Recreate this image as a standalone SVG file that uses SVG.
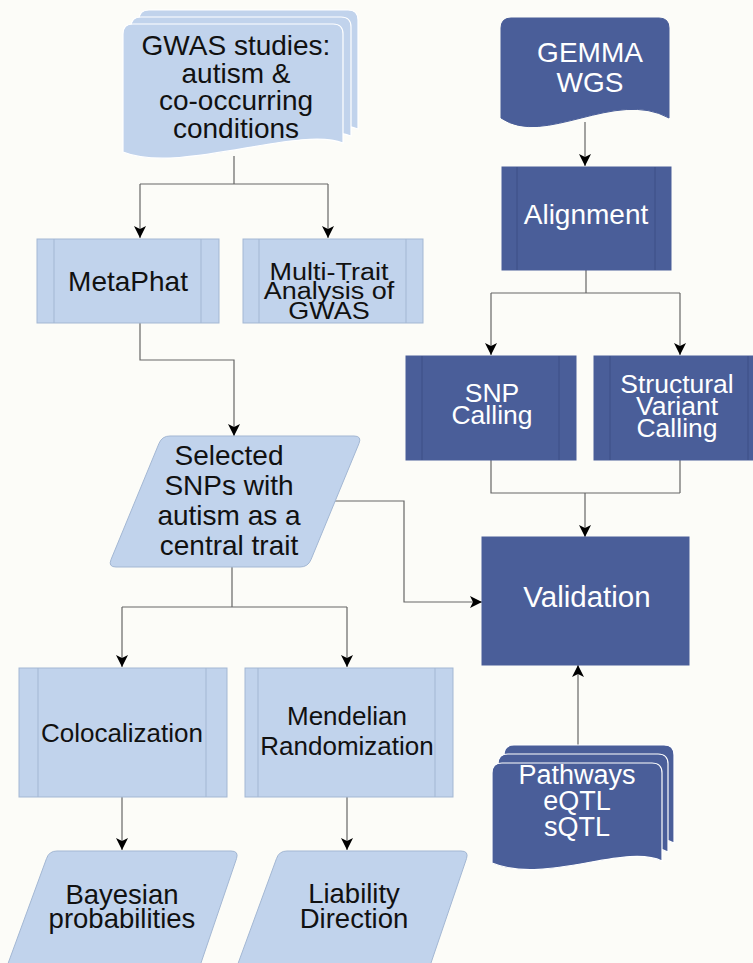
<svg xmlns="http://www.w3.org/2000/svg" width="753" height="963" viewBox="0 0 753 963">
<style>
.bg{fill:#fcfcf8}
.lf{fill:#c1d3ec;stroke:#a3b7d3;stroke-width:1}
.li{stroke:#a3b7d3;stroke-width:1;fill:none}
.df{fill:#4a5e99;stroke:#4a5e99;stroke-width:1}
.di{stroke:#3c4f86;stroke-width:1;fill:none}
.doc{stroke:#ffffff;stroke-width:1.2}
.lt{font-family:"Liberation Sans",Arial,sans-serif;font-size:28px;fill:#111;text-anchor:middle}
.dt{font-family:"Liberation Sans",Arial,sans-serif;font-size:28px;fill:#ffffff;text-anchor:middle}
.c{fill:none;stroke:#666;stroke-width:1.2}
.a{marker-end:url(#ah)}
</style>
<defs>
<marker id="ah" viewBox="0 0 12 12" refX="12" refY="6" markerWidth="12" markerHeight="12" orient="auto" markerUnits="userSpaceOnUse">
<path d="M0,0 L12,6 L0,12 L3,6 z" fill="#000"/>
</marker>
</defs>
<rect class="bg" x="0" y="0" width="753" height="963"/>

<g id="connectors">
<path class="c" d="M234,156 V184 M140,184 H328"/>
<path class="c a" d="M140,184 V238"/>
<path class="c a" d="M328,184 V238"/>
<path class="c a" d="M585,122 V166"/>
<path class="c" d="M586,270 V293 M491,293 H680"/>
<path class="c a" d="M491,293 V355"/>
<path class="c a" d="M680,293 V355"/>
<path class="c" d="M491,460 V493 H680 M680,460 V493"/>
<path class="c a" d="M585,493 V537"/>
<path class="c a" d="M140,323 V360 H234 V436"/>
<path class="c a" d="M333,501 H404 V602 H482"/>
<path class="c" d="M232,567 V607 M122,607 H347"/>
<path class="c a" d="M122,607 V667"/>
<path class="c a" d="M347,607 V667"/>
<path class="c a" d="M122,797 V850"/>
<path class="c a" d="M347,797 V850"/>
<path class="c a" d="M578,745 V665"/>
</g>

<g id="gwas">
<path class="lf doc" d="M139,138 L139,20 Q139,10 149,10 L348,10 Q358,10 358,20 L358,129 C315,111 196,161 139,138 Z"/>
<path class="lf doc" d="M131,145 L131,27 Q131,17 141,17 L341,17 Q351,17 351,27 L351,136 C308,118 188,168 131,145 Z"/>
<path class="lf doc" d="M123,152 L123,34 Q123,24 133,24 L333,24 Q343,24 343,34 L343,143 C300,125 180,175 123,152 Z"/>
<text class="lt"><tspan x="236" y="55">GWAS studies:</tspan><tspan x="236" y="83">autism &amp;</tspan><tspan x="236" y="110">co-occurring</tspan><tspan x="236" y="138">conditions</tspan></text>
</g>

<g id="gemma">
<path class="df" d="M501,118 L501,28 Q501,18 511,18 L659,18 Q669,18 669,28 L669,118 C615,88 545,148 501,118 Z"/>
<text class="dt"><tspan x="590" y="62">GEMMA</tspan><tspan x="590" y="92">WGS</tspan></text>
</g>

<g id="alignment">
<rect class="df" x="502" y="167" width="169" height="103"/>
<path class="di" d="M517,167 V270 M655,167 V270"/>
<text class="dt" x="586" y="224">Alignment</text>
</g>

<g id="metaphat">
<rect class="lf" x="37" y="239" width="182" height="84"/>
<path class="li" d="M54,239 V323 M201,239 V323"/>
<text class="lt" x="128" y="291">MetaPhat</text>
</g>

<g id="mtag">
<rect class="lf" x="243" y="239" width="180" height="84"/>
<path class="li" d="M259,239 V323 M406,239 V323"/>
<text class="lt" transform="matrix(1 0 0 0.88 0 0)" style="font-size:27px"><tspan x="329" y="318.2">Multi-Trait</tspan><tspan x="329" y="340.3">Analysis of</tspan><tspan x="329" y="362">GWAS</tspan></text>
</g>

<g id="snp">
<rect class="df" x="406" y="356" width="170" height="104"/>
<path class="di" d="M422,356 V460 M559,356 V460"/>
<text class="dt" style="font-size:26.5px"><tspan x="492" y="402">SNP</tspan><tspan x="492" y="424">Calling</tspan></text>
</g>

<g id="structural">
<rect class="df" x="594" y="356" width="170" height="104"/>
<path class="di" d="M610,356 V460 M748,356 V460"/>
<text class="dt" style="font-size:26.5px"><tspan x="677" y="393">Structural</tspan><tspan x="677" y="415">Variant</tspan><tspan x="677" y="437">Calling</tspan></text>
</g>

<g id="selected">
<path class="lf" d="M170,436 L354,436 Q362,436 359,443.4 L311,559.6 Q308,567 300,567 L116,567 Q108,567 111,559.6 L159,443.4 Q162,436 170,436 Z"/>
<text class="lt"><tspan x="229" y="465">Selected</tspan><tspan x="229" y="495">SNPs with</tspan><tspan x="229" y="525">autism as a</tspan><tspan x="229" y="555">central trait</tspan></text>
</g>

<g id="validation">
<rect class="df" x="482" y="537" width="207" height="128"/>
<text class="dt" x="587" y="607" style="font-size:29.5px">Validation</text>
</g>

<g id="colocalization">
<rect class="lf" x="19" y="668" width="208" height="129"/>
<path class="li" d="M38,668 V797 M206,668 V797"/>
<text class="lt" x="122" y="742" style="font-size:26px">Colocalization</text>
</g>

<g id="mendelian">
<rect class="lf" x="245" y="668" width="208" height="129"/>
<path class="li" d="M258,668 V797 M435,668 V797"/>
<text class="lt" style="font-size:26px"><tspan x="347" y="725">Mendelian</tspan><tspan x="347" y="755">Randomization</tspan></text>
</g>

<g id="pathways">
<path class="df doc" d="M504,845 L504,755 Q504,745 514,745 L664,745 Q674,745 674,755 L674,843 C637,825 557,867 504,845 Z"/>
<path class="df doc" d="M498,854 L498,764 Q498,754 508,754 L658,754 Q668,754 668,764 L668,852 C631,834 551,876 498,854 Z"/>
<path class="df doc" d="M492,863 L492,773 Q492,763 502,763 L652,763 Q662,763 662,773 L662,861 C625,843 545,885 492,863 Z"/>
<text class="dt" style="font-size:27px"><tspan x="577" y="784">Pathways</tspan><tspan x="577" y="810">eQTL</tspan><tspan x="577" y="836">sQTL</tspan></text>
</g>

<g id="bayesian">
<path class="lf" d="M57,851 L231,851 Q239,851 236.5,858.6 L185,1010 L-9,1010 L46.5,858.6 Q49,851 57,851 Z"/>
<text class="lt" style="font-size:27.5px"><tspan x="122" y="904">Bayesian</tspan><tspan x="122" y="928">probabilities</tspan></text>
</g>

<g id="liability">
<path class="lf" d="M287,851 L461,851 Q469,851 466.5,858.6 L415,1010 L221,1010 L276.5,858.6 Q279,851 287,851 Z"/>
<text class="lt" style="font-size:27.5px"><tspan x="354" y="903">Liability</tspan><tspan x="354" y="928">Direction</tspan></text>
</g>
</svg>
